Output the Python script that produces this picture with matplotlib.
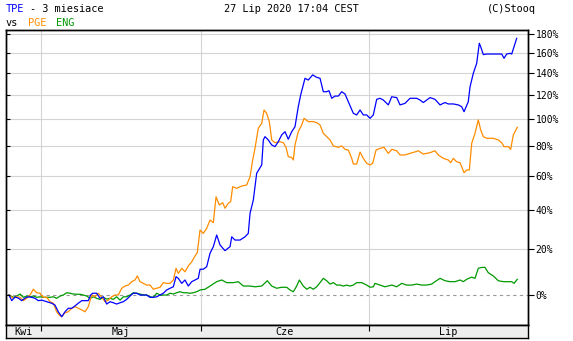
import numpy as np
import matplotlib
matplotlib.use("Agg")
import matplotlib.pyplot as plt

# numer sesji liczony od 27 kwietnia 2020 (0) do 27 lipca 2020 (63)
# wartosci: zmiana w % od poczatku okresu
tpe_x = [0, 0.34, 0.75, 1.16, 1.59, 2.0, 2.41, 2.84, 3.25, 3.66, 4.09, 4.71, 5.34, 5.75, 6.16, 6.59,
         7.0, 7.41, 7.84, 8.25, 8.66, 9.09, 9.5, 9.91, 10.21, 10.46, 10.96, 11.38, 11.79, 12.21, 12.63,
         13.04, 13.46, 13.88, 14.29, 14.71, 15.13, 15.54, 15.96, 16.38, 16.79, 17.21, 17.63, 18.04, 18.46,
         18.88, 19.29, 19.71, 20.13, 20.54, 20.88, 21.16, 21.59, 22.0, 22.41, 22.84, 23.25, 23.66, 23.88,
         24.29, 24.71, 25.13, 25.54, 25.96, 26.38, 27.0, 27.63, 27.84, 28.25, 28.88, 29.5, 29.91, 30.13,
         30.54, 30.96, 31.59, 31.79, 32.0, 32.41, 32.84, 33.25, 33.66, 34.09, 34.5, 34.91, 35.34, 35.75,
         36.16, 36.46, 37.0, 37.41, 37.96, 38.46, 38.88, 39.29, 39.71, 40.0, 40.34, 40.75, 41.16, 41.59,
         42.0, 42.41, 43.04, 43.46, 43.88, 44.29, 44.71, 45.13, 45.54, 45.96, 46.38, 46.79, 47.41, 47.84,
         48.46, 48.88, 49.5, 50.13, 50.96, 51.38, 51.79, 52.63, 53.25, 53.88, 54.5, 54.91, 55.54, 56.16,
         56.59, 56.88, 57.41, 57.63, 58.04, 58.46, 58.79, 58.96, 59.29, 59.71, 60.54, 61.59, 61.88, 62.21,
         62.63, 62.84, 63.13, 63.46]
tpe = [0, -2.2, -0.8, -1.2, -2.2, -1.2, -0.7, -0.9, -1.3, -2.2, -2.0, -2.6, -3.2, -3.9, -6.4, -8.2,
       -6.4, -5.1, -5.1, -4.2, -3.2, -2.2, -2.2, -2.2, 0, 0.7, 0.7, -1.3, -0.7, -3.5, -2.6,
       -3.0, -3.5, -3.0, -2.6, -1.7, -0.4, 0.7, 0.7, 0, 0, 0, -0.9, -0.9, -0.7,
       0, 0.7, 2.0, 2.7, 3.3, 7.5, 6.8, 4.7, 6.1, 3.6, 5.4, 6.1, 6.8, 10.7,
       10.7, 11.8, 17.9, 21.0, 26.7, 21.8, 19.1, 21.0, 25.8, 24.2, 24.2, 25.8, 27.5, 38.0,
       45.4, 61.6, 67.0, 84.3, 86.7, 84.3, 80.7, 79.5, 83.0, 88.0, 90.4, 84.8, 90.4, 94.2,
       110.1, 120.1, 135.0, 133.4, 138.2, 135.9, 135.0, 122.9, 122.9, 123.8, 117.2, 119.1, 119.1, 122.9,
       120.9, 114.3, 104.7, 103.4, 107.4, 103.4, 103.4, 100.7, 103.4, 116.3, 117.2, 115.7, 111.6, 118.5,
       117.8, 111.6, 112.9, 117.2, 117.2, 115.7, 113.6, 117.8, 116.3, 111.6, 113.6, 112.4, 112.4, 111.6,
       110.1, 106.0, 114.3, 127.3, 139.7, 149.3, 169.8, 166.2, 158.0, 158.6, 158.6, 158.6, 154.3, 158.6,
       159.3, 158.6, 166.2, 175.1]

pge_x = [0, 0.54, 0.96, 1.38, 1.79, 2.21, 2.63, 3.04, 3.46, 3.88, 4.29, 4.71, 5.13, 5.54, 5.96, 6.29,
         6.59, 7.0, 7.41, 7.84, 8.25, 8.66, 9.09, 9.5, 9.91, 10.34, 10.75, 11.16, 11.59, 12.0, 12.41,
         12.84, 13.25, 13.66, 14.09, 14.5, 14.91, 15.34, 15.75, 16.04, 16.38, 16.79, 17.21, 17.63, 18.04,
         18.46, 18.88, 19.29, 19.71, 20.13, 20.54, 20.88, 21.16, 21.59, 22.0, 22.41, 22.84, 23.25, 23.54,
         23.88, 24.29, 24.71, 25.13, 25.54, 25.88, 26.29, 26.71, 27.0, 27.41, 27.71, 27.96, 28.46, 29.09,
         29.71, 30.13, 30.46, 30.75, 31.16, 31.59, 31.88, 32.21, 32.54, 32.84, 33.25, 33.88, 34.29, 34.63,
         34.91, 35.34, 35.54, 35.75, 36.16, 36.59, 36.88, 37.41, 38.04, 38.46, 38.88, 39.29, 39.71, 40.13,
         40.54, 41.16, 41.59, 42.0, 42.41, 42.84, 43.04, 43.46, 43.88, 44.29, 44.71, 45.13, 45.46, 45.88,
         46.38, 46.88, 47.41, 47.84, 48.46, 48.88, 49.5, 50.13, 50.75, 51.16, 51.79, 52.63, 53.25, 53.66,
         54.29, 54.91, 55.21, 55.54, 55.96, 56.38, 56.59, 56.88, 57.21, 57.54, 57.84, 58.25, 58.66, 58.96,
         59.29, 59.71, 60.54, 61.16, 61.59, 61.88, 62.41, 62.71, 63.04, 63.54]
pge = [0, -1.3, -0.7, -0.9, -2.2, -1.3, 0, 2.3, 0.9, 0.7, -0.9, -0.9, -2.6, -3.2, -6.4, -7.6,
       -8.2, -6.7, -6.4, -5.1, -4.5, -5.1, -5.7, -6.4, -4.5, 0, -0.7, 0.7, -0.9, -2.6, -2.0,
       -0.7, 0, 0, 2.7, 3.6, 4.0, 5.4, 6.1, 7.8, 5.4, 4.7, 4.0, 4.0, 2.3,
       2.7, 3.1, 5.0, 4.7, 4.7, 6.1, 11.1, 8.9, 11.1, 9.6, 12.1, 14.0, 16.6, 18.2,
       29.2, 27.5, 30.1, 34.4, 33.0, 47.3, 42.6, 43.9, 40.8, 43.6, 44.5, 53.3, 52.3, 53.7,
       54.3, 59.4, 70.3, 78.3, 93.0, 96.8, 107.4, 104.7, 98.1, 84.3, 82.3, 83.0, 82.3, 79.0,
       72.5, 72.0, 70.3, 80.7, 90.4, 95.5, 100.7, 98.1, 98.1, 97.3, 95.5, 89.2, 86.7, 84.3,
       80.0, 79.0, 80.0, 77.6, 77.1, 71.4, 67.6, 67.6, 75.7, 71.4, 68.1, 67.0, 68.1, 77.1,
       78.3, 79.0, 74.8, 77.6, 76.6, 73.7, 73.7, 74.8, 75.8, 76.6, 74.3, 75.3, 76.6, 73.7,
       71.4, 70.3, 68.5, 71.4, 69.1, 68.5, 65.8, 62.0, 63.7, 63.7, 81.9, 89.2, 99.5, 91.7,
       86.7, 85.5, 85.5, 84.3, 82.3, 79.5, 79.5, 77.6, 88.0, 93.7]

eng_x = [0, 0.54, 0.96, 1.38, 1.79, 2.21, 2.63, 3.04, 3.46, 3.88, 4.29, 4.71, 5.13, 5.54, 5.96, 6.38,
         6.79, 7.21, 7.63, 8.04, 8.46, 8.88, 9.29, 9.71, 10.13, 10.54, 10.96, 11.38, 11.79, 12.21, 12.63,
         13.04, 13.46, 13.88, 14.29, 14.71, 15.13, 15.54, 15.96, 16.38, 16.79, 17.21, 17.63, 18.04, 18.46,
         18.88, 19.29, 19.71, 20.13, 20.54, 20.96, 21.38, 21.79, 22.21, 22.63, 23.04, 23.46, 23.88, 24.5,
         25.13, 25.96, 26.59, 27.21, 28.04, 28.66, 29.29, 30.13, 30.75, 31.59, 32.29, 32.84, 33.46, 34.09,
         34.71, 35.13, 35.54, 35.96, 36.29, 36.79, 37.21, 37.63, 38.04, 38.46, 38.88, 39.29, 39.71, 40.13,
         40.54, 40.96, 41.38, 41.79, 42.21, 42.63, 43.04, 43.46, 44.09, 44.71, 45.13, 45.54, 45.75, 46.38,
         47.0, 47.84, 48.46, 49.09, 49.71, 50.34, 50.96, 51.59, 52.21, 52.84, 53.25, 53.88, 54.5, 55.13,
         55.75, 56.38, 56.79, 57.21, 57.84, 58.25, 58.66, 59.09, 59.5, 59.91, 60.54, 61.16, 61.79, 62.41,
         62.84, 63.13, 63.54]
eng = [0, -0.9, -0.4, 0.4, -0.9, -0.4, -0.7, -0.4, -0.9, -0.7, -0.9, -0.9, -0.9, -0.7, -1.3, -0.4,
       0, 0.9, 0.7, 0.4, 0.3, 0.3, 0, -0.4, -1.3, -0.7, -1.3, -1.7, -0.9, -1.6, -1.3,
       -1.7, -0.7, -2.0, -0.7, -0.7, 0, 0.9, 0.7, 0.4, 0, 0, -0.7, -0.9, 0.7,
       0, 0, 0, 0.7, 0.4, 0.9, 1.3, 0.9, 0.9, 0.7, 0.9, 1.3, 2.0, 2.3,
       3.6, 5.4, 6.1, 5.0, 5.0, 5.4, 3.6, 3.6, 3.3, 3.6, 5.8, 3.6, 2.7, 3.1,
       3.1, 2.0, 1.3, 3.6, 6.1, 3.6, 2.3, 3.1, 2.3, 3.3, 5.0, 6.8, 5.8, 4.4,
       5.0, 4.0, 4.0, 3.6, 4.0, 3.6, 4.0, 5.0, 5.0, 4.0, 3.1, 3.3, 4.7, 4.0,
       3.3, 4.0, 3.3, 4.7, 4.0, 4.0, 4.4, 4.0, 4.0, 4.4, 5.4, 6.8, 5.8, 5.4,
       5.4, 6.1, 5.4, 6.4, 7.3, 6.8, 11.1, 11.5, 11.5, 9.2, 7.8, 5.8, 5.4, 5.4,
       5.4, 4.7, 6.4]

months = ["Kwi", "Maj", "Cze", "Lip"]
month_starts = [4, 24, 45]  # pierwsza sesja maja, czerwca, lipca
y_ticks = [0, 20, 40, 60, 80, 100, 120, 140, 160, 180]


def fwd(p):
    return np.log10(1 + np.asarray(p, dtype=float) / 100.0)


def inv(v):
    return (10 ** np.asarray(v, dtype=float) - 1) * 100.0


plt.rcParams['font.family'] = 'DejaVu Sans Mono'

W, H = 573, 341
fig = plt.figure(figsize=(W / 100, H / 100), dpi=100)
ax = fig.add_axes([6 / W, 16 / H, 522 / W, 295 / H])
bar = fig.add_axes([6 / W, 3.5 / H, 522 / W, 12.5 / H])

x_min, x_max = -0.375, 64.875
y_min, y_max = -11.15, 184.3

ax.set_yscale('function', functions=(fwd, inv))
ax.set_xlim(x_min, x_max)
ax.set_ylim(y_min, y_max)

# os pomocnicza: krotkie kreski do wewnatrz przy lewej krawedzi
ax2 = ax.twinx()
ax2.set_yscale('function', functions=(fwd, inv))
ax2.set_ylim(y_min, y_max)
ax2.set_yticks(y_ticks)
ax2.yaxis.set_minor_locator(matplotlib.ticker.NullLocator())
ax2.tick_params(axis='y', left=True, right=False, labelleft=False, labelright=False,
                direction='in', length=3, width=0.8)

# siatka
for t in y_ticks[1:]:
    ax.axhline(t, color='#d4d4d4', lw=0.8, zorder=1)
ax.axhline(0, color='#999999', lw=0.8, ls=(0, (3, 3)), zorder=1)
for m in month_starts:
    ax.axvline(m, color='#d4d4d4', lw=0.8, zorder=1)

ax.plot(eng_x, eng, color='#009900', lw=0.9, zorder=3)
ax.plot(pge_x, pge, color='#ff8c00', lw=0.9, zorder=4)
ax.plot(tpe_x, tpe, color='#0000ff', lw=0.9, zorder=5)

ax.set_xticks([])
ax.set_yticks(y_ticks)
ax.set_yticklabels([f"{t}%" for t in y_ticks])
ax.yaxis.set_minor_locator(matplotlib.ticker.NullLocator())
ax.tick_params(axis='y', left=False, right=True, labelleft=False, labelright=True,
               direction='out', length=4, width=0.8, pad=1.5, labelsize=7)

for a in (ax, ax2):
    for s in a.spines.values():
        s.set_linewidth(1.0)
        s.set_color('black')

# pasek z miesiacami
bar.set_facecolor('#eeeeee')
bar.set_xlim(x_min, x_max)
bar.set_ylim(0, 1)
bar.set_yticks([])
bar.set_xticks(month_starts)
bar.tick_params(axis='x', top=True, bottom=False, labelbottom=False,
                direction='in', length=4, width=0.8)
for s in bar.spines.values():
    s.set_linewidth(1.0)
edges = [x_min] + month_starts + [x_max]
for i, name in enumerate(months):
    bar.text((edges[i] + edges[i + 1]) / 2, 0.45, name, ha='center', va='center', fontsize=7.3)

# naglowek
fig.text(5.5 / W, 1 - 9.5 / H, "TPE", color='#0000ff', fontsize=7.4, va='center')
fig.text(30.5 / W, 1 - 9.5 / H, "- 3 miesiace", color='black', fontsize=7.4, va='center')
fig.text(224 / W, 1 - 9.5 / H, "27 Lip 2020 17:04 CEST", color='black', fontsize=7.4, va='center')
fig.text(487 / W, 1 - 9.5 / H, "(C)Stooq", color='black', fontsize=7.4, va='center')
fig.text(5.5 / W, 1 - 22.5 / H, "vs", color='black', fontsize=7.4, va='center')
fig.text(27.7 / W, 1 - 22.5 / H, "PGE", color='#ff8c00', fontsize=7.4, va='center')
fig.text(56 / W, 1 - 22.5 / H, "ENG", color='#009900', fontsize=7.4, va='center')

fig.savefig("out.png", dpi=100)
